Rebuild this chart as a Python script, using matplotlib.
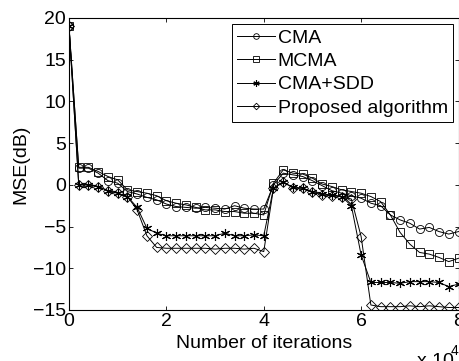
import numpy as np
import matplotlib
matplotlib.use("Agg")
import matplotlib.pyplot as plt

plt.rcParams['font.family'] = ['Liberation Sans', 'DejaVu Sans']

# iteration grid (every 2000 iterations, 0..80000)
iterations = np.arange(0, 80001, 2000)

cma = [19.0, 2.0, 2.0, 1.4, 0.5, 0.2, -0.8, -1.1, -1.5, -1.8,
       -2.3, -2.6, -2.7, -2.8, -2.7, -2.8, -2.9, -2.5, -2.8, -2.9,
       -2.9, 0.0, 1.4, 1.2, 1.0, 0.5, -0.1, -0.7, -1.0, -1.3,
       -1.6, -2.2, -2.5, -3.6, -4.2, -4.6, -5.3, -5.1, -5.6, -5.9,
       -5.6]
mcma = [19.0, 2.1, 2.1, 1.6, 1.0, 0.6, -0.6, -0.8, -1.0, -1.3,
        -1.9, -2.2, -2.4, -2.7, -3.0, -3.0, -3.2, -3.2, -3.4, -3.4,
        -3.6, 0.2, 1.8, 1.4, 1.3, 0.8, 0.1, -0.2, -0.6, -0.8,
        -1.0, -1.4, -2.0, -3.6, -5.7, -7.1, -8.1, -8.3, -8.7, -9.2,
        -8.8]
cma_sdd = [19.0, 0.0, 0.0, -0.2, -0.7, -1.0, -1.4, -2.7, -5.2, -5.8,
           -6.1, -6.1, -6.1, -6.1, -6.1, -6.1, -5.8, -6.1, -6.1, -6.0,
           -6.1, -0.4, 0.3, -0.3, -0.4, -0.8, -1.1, -1.2, -1.4, -2.5,
           -8.4, -11.7, -11.7, -11.7, -11.8, -11.6, -11.6, -11.6, -11.7, -12.2,
           -11.9]
proposed = [19.0, 0.0, 0.0, -0.2, -0.7, -1.0, -1.4, -3.0, -6.1, -7.5,
            -7.6, -7.6, -7.6, -7.6, -7.6, -7.7, -7.6, -7.6, -7.7, -7.6,
            -8.0, -0.4, 0.4, -0.4, -0.4, -0.9, -1.2, -1.3, -1.4, -1.7,
            -6.2, -14.4, -14.6, -14.6, -14.6, -14.5, -14.6, -14.5, -14.6, -14.7,
            -14.7]

labels = ['CMA', 'MCMA', 'CMA+SDD', 'Proposed algorithm']
xticks = [0, 20000, 40000, 60000, 80000]
xtick_labels = ['0', '2', '4', '6', '8']
yticks = [-15, -10, -5, 0, 5, 10, 15, 20]

fig = plt.figure(figsize=(4.59, 3.61), dpi=100)
ax = fig.add_axes([69/459, 1-310/361, (458.5-69)/459, (310-18)/361])

lw = 0.7
ax.plot(iterations, cma, color='black', lw=lw, marker='o', ms=5.8,
        mfc='none', mec='black', mew=0.6, label=labels[0])
ax.plot(iterations, mcma, color='black', lw=lw, marker='s', ms=5.8,
        mfc='none', mec='black', mew=0.6, label=labels[1])
ax.plot(iterations, cma_sdd, color='black', lw=lw, marker=(6, 2, 0), ms=6.5,
        mec='black', mew=0.8, label=labels[2])
ax.plot(iterations, proposed, color='black', lw=lw, marker='D', ms=4.8,
        mfc='none', mec='black', mew=0.6, label=labels[3])

ax.set_xlim(0, 80000)
ax.set_ylim(-15, 20)
ax.set_xticks(xticks)
ax.set_xticklabels(xtick_labels)
ax.set_yticks(yticks)
ax.tick_params(direction='in', top=True, right=True, length=3.2, width=0.6,
               labelsize=14, pad=2)
for s in ax.spines.values():
    s.set_linewidth(0.8)

ax.set_xlabel('Number of iterations', fontsize=14)
ax.xaxis.set_label_coords(0.5, -0.086)
ax.set_ylabel('MSE(dB)', fontsize=14)
ax.yaxis.set_label_coords(-0.103, 0.5)

leg = ax.legend(loc='upper right', bbox_to_anchor=(0.985, 0.979),
                borderaxespad=0, fontsize=14, frameon=True, fancybox=False,
                edgecolor='black', framealpha=1, handlelength=1.95,
                handletextpad=0.15, labelspacing=0.3, borderpad=0.25,
                markerscale=0.7)
leg.get_frame().set_linewidth(0.7)

fig.text(417/459, 1-366.5/361, 'x 10', fontsize=14, ha='left', va='baseline')
fig.text(451/459, 1-355/361, '4', fontsize=10, ha='left', va='baseline')

fig.savefig('out.png', dpi=100)
